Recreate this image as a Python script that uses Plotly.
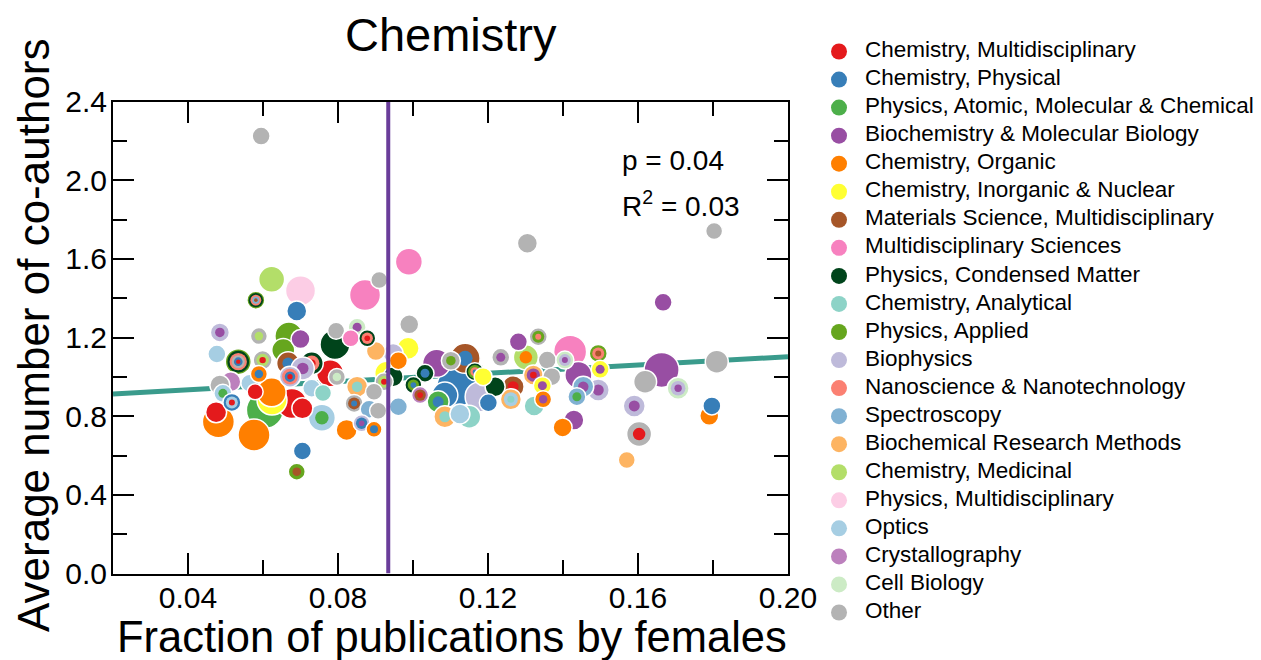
import plotly.graph_objects as go

# ---- categories (legend order) ----
categories = [
    "Chemistry, Multidisciplinary", "Chemistry, Physical",
    "Physics, Atomic, Molecular & Chemical", "Biochemistry & Molecular Biology",
    "Chemistry, Organic", "Chemistry, Inorganic & Nuclear",
    "Materials Science, Multidisciplinary", "Multidisciplinary Sciences",
    "Physics, Condensed Matter", "Chemistry, Analytical", "Physics, Applied",
    "Biophysics", "Nanoscience & Nanotechnology", "Spectroscopy",
    "Biochemical Research Methods", "Chemistry, Medicinal",
    "Physics, Multidisciplinary", "Optics", "Crystallography",
    "Cell Biology", "Other",
]
category_codes = ["CM", "CP", "PAM", "BMB", "CO", "CIN", "MSM", "MS", "PCM", "CA",
                  "PA", "BP", "NN", "SP", "BRM", "CMed", "PM", "OP", "CR", "CB", "OT"]
category_colors = ["#e41a1c", "#377eb8", "#4daf4a", "#984ea3", "#ff7f00", "#ffff33",
                   "#a65628", "#f781bf", "#00441b", "#8dd3c7", "#66a61e", "#bebada",
                   "#fb8072", "#80b1d3", "#fdb462", "#b3de69", "#fccde5", "#a6cee3",
                   "#bc80bd", "#ccebc5", "#b3b3b3"]

# ---- journals: fraction of papers by women, mean co-authors, bubble size, fields ----
frac_female = [
    0.0595, 0.1803, 0.1305, 0.0989, 0.0910, 0.0623, 0.0700, 0.0872, 0.0581, 0.1667,
    0.0690, 0.0990, 0.0851, 0.0795, 0.0485, 0.0589, 0.0669, 0.1334, 0.0700, 0.0834,
    0.0878, 0.1281, 0.0792, 0.0654, 0.0901, 0.1419, 0.1494, 0.0477, 0.0987, 0.0947,
    0.1139, 0.1063, 0.1101, 0.1234, 0.1301, 0.1358, 0.1405, 0.0961, 0.0534, 0.0599,
    0.1810, 0.0667, 0.0730, 0.0706, 0.1499, 0.1663, 0.1165, 0.0779, 0.1032, 0.0589,
    0.1321, 0.1441, 0.0672, 0.1187, 0.1370, 0.0947, 0.0930, 0.0797, 0.0923, 0.0514,
    0.0485, 0.1619, 0.1219, 0.1267, 0.1117, 0.1454, 0.1345, 0.0851, 0.0730, 0.1707,
    0.1001, 0.1494, 0.0896, 0.0579, 0.0623, 0.0493, 0.1019, 0.1179, 0.1437, 0.1347,
    0.1261, 0.1067, 0.0517, 0.1201, 0.0677, 0.0843, 0.0961, 0.1797, 0.1590, 0.1323,
    0.0705, 0.0883, 0.0907, 0.0605, 0.0475, 0.1125, 0.1085, 0.1150, 0.0757, 0.1790,
    0.0481, 0.1429, 0.0863, 0.1399, 0.0823, 0.0896, 0.1603, 0.0576, 0.0705, 0.1570,
    0.0690, 0.0624, 0.0760, 0.0565, 0.1085,
]
avg_coauthors = [
    2.224, 1.741, 1.679, 1.585, 1.492, 1.496, 1.438, 1.416, 1.390, 1.379,
    1.335, 1.267, 1.252, 1.234, 1.226, 1.207, 1.207, 1.204, 1.192, 1.196,
    1.196, 1.178, 1.165, 1.136, 1.131, 1.128, 1.119, 1.116, 1.145, 1.119,
    1.094, 1.069, 1.082, 1.099, 1.099, 1.085, 1.085, 1.082, 1.077, 1.085,
    1.077, 1.069, 1.069, 1.043, 1.038, 1.035, 1.026, 1.018, 1.018, 1.014,
    1.009, 1.009, 1.001, 1.001, 1.001, 1.001, 1.018, 0.999, 0.975, 0.975,
    0.958, 0.975, 0.950, 0.950, 0.950, 0.950, 0.955, 0.950, 0.942, 0.942,
    0.958, 0.933, 0.924, 0.924, 0.921, 0.916, 0.907, 0.899, 0.899, 0.886,
    0.886, 0.873, 0.870, 0.868, 0.865, 0.865, 0.848, 0.852, 0.852, 0.852,
    0.840, 0.835, 0.828, 0.831, 0.820, 0.811, 0.797, 0.797, 0.792, 0.802,
    0.772, 0.780, 0.764, 0.743, 0.730, 0.733, 0.709, 0.704, 0.623, 0.577,
    0.518, 0.882, 0.918, 0.968, 0.907,
]
bubble_size = [
    18, 17, 20, 27, 17, 26, 30, 31, 18, 18,
    20, 19, 18, 17, 19, 17, 28, 18, 19, 17,
    17, 18, 30, 23, 19, 33, 18, 18, 22, 20,
    30, 28, 19, 18, 25, 18, 18, 18, 26, 19,
    23, 23, 23, 23, 18, 35, 18, 27, 18, 17,
    20, 27, 21, 18, 18, 20, 24, 17, 18, 20,
    20, 23, 20, 22, 40, 21, 18, 21, 18, 22,
    17, 22, 17, 16, 29, 18, 17, 30, 18, 17,
    21, 22, 18, 18, 30, 18, 18, 18, 22, 20,
    21, 18, 17, 37, 21, 20, 22, 23, 27, 19,
    32, 20, 17, 19, 21, 16, 25, 32, 18, 17,
    17, 30, 17, 18, 26,
]
journal_fields = [
    ["OT"], ["OT"], ["OT"], ["MS"], ["OT"], ["CMed"], ["PM"], ["MS"],
    ["PA", "PCM", "NN", "SP", "MSM"], ["BMB"],
    ["CP"], ["OT"], ["CB", "BMB"], ["OT"], ["BP", "BMB"], ["OT", "CMed"], ["PA"],
    ["OT", "PA", "NN"], ["BMB"], ["MS"],
    ["PCM", "NN", "CM"], ["BMB"], ["PCM"], ["PA"], ["BRM"], ["MS"], ["PA", "NN", "MSM"],
    ["OP"], ["CIN"], ["BP"],
    ["MSM", "CP"], ["BMB"], ["OT", "PA"], ["OT", "BMB"], ["CMed", "CO"], ["OT"],
    ["CB", "BP", "BMB"], ["CO"], ["PA", "PCM", "NN", "OT", "CP", "CM"], ["OT", "CMed", "CM"],
    ["OT"], ["MSM", "CP"], ["PCM", "NN", "CM"], ["BP", "BMB"], ["CIN", "BMB"], ["BMB"],
    ["PCM", "PA", "NN", "CP"], ["CM"], ["PCM", "CP"], ["CO", "CP"],
    ["BRM", "BMB", "CM"], ["BMB"], ["BP", "NN", "CP", "CM"], ["CIN"], ["OT"], ["PCM"],
    ["CIN"], ["OT", "CB"], ["OT", "CMed", "CM"], ["CR"],
    ["OT"], ["OT"], ["PCM"], ["MSM", "CM"], ["CP"], ["SP", "BMB"], ["CIN", "BMB"],
    ["BRM", "CA"], ["OP"], ["CB", "BP", "BMB"],
    ["PCM", "PA", "CP"], ["BP", "BMB"], ["OT"], ["CM"], ["CO"], ["OP", "PAM"],
    ["CR", "MSM", "CM"], ["BP"], ["SP", "PAM"], ["CO", "BMB"],
    ["BRM", "OP", "CA"], ["PAM", "CP"], ["CP", "OP", "CM"], ["CP"], ["CM"],
    ["OT", "MSM", "CP"], ["SP"], ["CP"], ["BP", "BMB"], ["CA"],
    ["CM"], ["SP"], ["OT"], ["PAM"], ["CM"], ["OP"], ["BRM", "CA"], ["CA"],
    ["OP", "PAM"], ["CO"],
    ["CO"], ["BMB"], ["BP", "CP", "BMB"], ["CO"], ["CO"], ["CO", "CP"], ["OT", "CM"],
    ["CO"], ["CP"], ["BRM"],
    ["PA", "MSM"], ["CIN"], ["CA"], ["OP"], ["CP"],
]

# ---- linear fit and field mean ----
fit_x = [0.02, 0.20]
fit_y = [0.913, 1.102]
mean_frac_female = 0.0934
p_value_text = "p = 0.04"
r2_text = "R<sup>2</sup> = 0.03"

FONT = "Liberation Sans, Arial, Helvetica, sans-serif"
W, H = 1261, 660
color_of = dict(zip(category_codes, category_colors))

fig = go.Figure()

fig.add_trace(go.Scatter(
    x=fit_x, y=fit_y, mode="lines",
    line=dict(color="#3a9b8c", width=5),
    showlegend=False, hoverinfo="skip",
))

# each journal: concentric discs, one per field, largest first
order = sorted(range(len(frac_female)), key=lambda i: -bubble_size[i])
for i in order:
    codes = journal_fields[i]
    n = len(codes)
    sizes = [bubble_size[i] * (n - k) / n for k in range(n)]
    fig.add_trace(go.Scatter(
        x=[frac_female[i]] * n, y=[avg_coauthors[i]] * n, mode="markers",
        marker=dict(size=sizes, color=[color_of[c] for c in codes], opacity=1,
                    line=dict(color="white", width=[1.5] + [0] * (n - 1))),
        showlegend=False, hoverinfo="skip",
    ))

fig.add_trace(go.Scatter(
    x=[mean_frac_female, mean_frac_female], y=[0, 2.4], mode="lines",
    line=dict(color="#6a3d9a", width=4),
    showlegend=False, hoverinfo="skip",
))

# legend column
idx = list(range(len(categories)))
fig.add_trace(go.Scatter(
    x=[0.0431] * len(idx), y=idx, mode="markers",
    marker=dict(size=16, color=category_colors, line=dict(width=0)),
    xaxis="x2", yaxis="y2", showlegend=False, hoverinfo="skip", cliponaxis=False,
))
fig.add_trace(go.Scatter(
    x=[0.102] * len(idx), y=idx, mode="text", text=categories,
    textposition="middle right",
    textfont=dict(family=FONT, size=22.5, color="black"),
    xaxis="x2", yaxis="y2", showlegend=False, hoverinfo="skip", cliponaxis=False,
))

axis_common = dict(
    showline=True, linecolor="black", linewidth=2, mirror="ticks",
    ticks="inside", ticklen=21, tickwidth=2, tickcolor="black",
    showgrid=False, zeroline=False, automargin=False,
    tickfont=dict(family=FONT, size=30, color="black"),
)

fig.update_layout(
    width=W, height=H, autosize=False,
    margin=dict(l=0, r=0, t=0, b=0, pad=0, autoexpand=False),
    paper_bgcolor="white", plot_bgcolor="white",
    showlegend=False,
    font=dict(family=FONT, color="black"),
    xaxis=dict(
        domain=[113 / W, 788 / W], range=[0.02, 0.20], anchor="y",
        tickmode="linear", tick0=0.04, dtick=0.04, tickformat=".2f",
        ticklabelstandoff=-4,
        minor=dict(ticks="inside", ticklen=14, tickwidth=2, tickcolor="black",
                   tick0=0.02, dtick=0.02),
        **axis_common,
    ),
    yaxis=dict(
        domain=[1 - 573.5 / H, 1 - 101.5 / H], range=[0, 2.4], anchor="x",
        tickmode="linear", tick0=0, dtick=0.4, tickformat=".1f",
        ticklabelstandoff=-2,
        minor=dict(ticks="inside", ticklen=14, tickwidth=2, tickcolor="black",
                   tick0=0, dtick=0.2),
        **axis_common,
    ),
    xaxis2=dict(domain=[820 / W, 1.0], range=[0, 1], anchor="y2", visible=False,
                automargin=False),
    yaxis2=dict(domain=[0, 1], range=[21.693, -1.836], anchor="x2", visible=False,
                automargin=False),
    annotations=[
        dict(text="Chemistry", x=451 / W, y=1 - 35 / H, xref="paper", yref="paper",
             xanchor="center", yanchor="middle", showarrow=False,
             font=dict(family=FONT, size=47, color="black")),
        dict(text="Fraction of publications by females", x=452 / W, y=1 - 637 / H,
             xref="paper", yref="paper", xanchor="center", yanchor="middle",
             showarrow=False, font=dict(family=FONT, size=43.5, color="black")),
        dict(text="Average number of co-authors", x=33 / W, y=1 - 335 / H,
             xref="paper", yref="paper", xanchor="center", yanchor="middle",
             textangle=-90, showarrow=False,
             font=dict(family=FONT, size=44, color="black")),
        dict(text=p_value_text, x=620 / W, y=1 - 160 / H, xref="paper", yref="paper",
             xanchor="left", yanchor="middle", showarrow=False,
             font=dict(family=FONT, size=28, color="black")),
        dict(text=r2_text, x=620 / W, y=1 - 204 / H, xref="paper", yref="paper",
             xanchor="left", yanchor="middle", showarrow=False,
             font=dict(family=FONT, size=28, color="black")),
    ],
)

fig.write_html("out.html")
